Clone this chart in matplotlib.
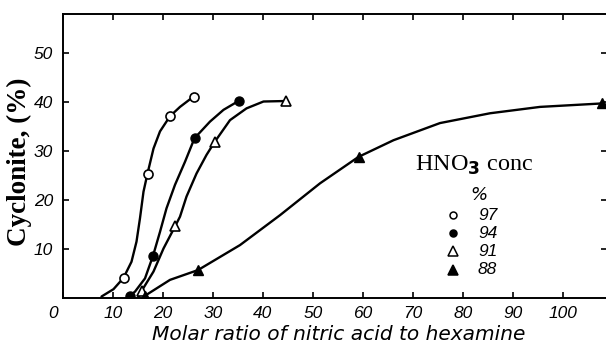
import matplotlib
matplotlib.use("Agg")
import matplotlib.pyplot as plt
import matplotlib.transforms as mtransforms

# ---- data ----
# marker points
x97 = [12.1, 16.9, 21.4, 26.1]
y97 = [4.1, 25.4, 37.1, 41.1]
x94 = [13.4, 18.0, 26.3, 35.1]
y94 = [0.5, 8.6, 32.6, 40.2]
x91 = [15.7, 22.4, 30.3, 44.5]
y91 = [1.4, 14.6, 31.8, 40.2]
x88 = [16.3, 27.0, 59.1, 107.7]
y88 = [0.4, 5.7, 28.8, 39.7]

# curve traces
cx97 = [7.7, 10.1, 12.1, 13.7, 14.7, 15.4, 16.1, 16.9, 18.1, 19.4, 21.4, 23.4, 26.1]
cy97 = [0.3, 1.8, 4.1, 7.4, 11.5, 16.3, 21.7, 25.4, 30.5, 34.0, 37.1, 39.0, 41.1]
cx94 = [12.6, 13.4, 14.4, 16.4, 18.0, 19.4, 20.7, 22.4, 24.4, 26.3, 29.4, 32.1, 35.1]
cy94 = [0.0, 0.5, 1.3, 4.0, 8.6, 13.5, 18.3, 23.1, 27.8, 32.6, 36.0, 38.4, 40.2]
cx91 = [15.0, 15.7, 18.1, 20.1, 22.4, 23.4, 24.7, 26.7, 28.7, 30.3, 33.4, 36.7, 40.1, 44.5]
cy91 = [0.0, 1.4, 5.4, 10.1, 14.6, 16.6, 20.7, 25.4, 29.2, 31.8, 36.3, 38.7, 40.1, 40.2]
cx88 = [16.3, 21.4, 27.0, 35.4, 43.4, 51.4, 59.1, 66.1, 75.4, 85.4, 95.4, 107.7]
cy88 = [0.4, 3.7, 5.7, 10.8, 16.9, 23.4, 28.8, 32.2, 35.7, 37.7, 39.0, 39.7]

legend_labels = ["97", "94", "91", "88"]
xticks = [0, 10, 20, 30, 40, 50, 60, 70, 80, 90, 100]
yticks = [10, 20, 30, 40, 50]

W, H = 606, 349
fig = plt.figure(figsize=(W / 100, H / 100), dpi=100)
L, B, T, R = 63, 298, 14, 607
ax = fig.add_axes([L / W, 1 - B / H, (R - L) / W, (B - T) / H])
ax.set_xlim(0, (R - L) / 5.0)
ax.set_ylim(0, (B - T) / 4.9)

lw = 1.7
tick_font = dict(family=["Liberation Sans", "DejaVu Sans"], style="italic", size=12.5)

for cx, cy in [(cx97, cy97), (cx94, cy94), (cx91, cy91), (cx88, cy88)]:
    ax.plot(cx, cy, color="black", lw=lw, solid_capstyle="round",
            solid_joinstyle="round")

ms = 6.5
ax.plot(x97, y97, "o", mfc="white", mec="black", mew=1.2, ms=ms, ls="none")
ax.plot(x94, y94, "o", mfc="black", mec="black", ms=ms, ls="none")
ax.plot(x91, y91, "^", mfc="white", mec="black", mew=1.2, ms=ms + 1, ls="none")
ax.plot(x88, y88, "^", mfc="black", mec="black", ms=ms + 1, ls="none")

for s in ax.spines.values():
    s.set_linewidth(1.4)

ax.set_xticks(xticks)
ax.set_xticklabels([str(v) for v in xticks], **tick_font)
ax.set_yticks(yticks)
ax.set_yticklabels([str(v) for v in yticks], **tick_font)
ax.tick_params(direction="in", length=4, width=1.2, top=True, right=True)
ax.tick_params(axis="x", pad=6)
ax.tick_params(axis="y", pad=7)
# the origin label sits a little to the left in the original
first = ax.get_xticklabels()[0]
first.set_transform(first.get_transform() +
                    mtransforms.ScaledTranslation(-10 / 100, 0, fig.dpi_scale_trans))

ax.set_ylabel("Cyclonite, (%)", family="Liberation Serif", weight="bold",
              size=19.5)
ax.yaxis.set_label_coords((32 - L) / (R - L), (B - 162) / (B - T))
ax.set_xlabel("Molar ratio of nitric acid to hexamine",
              family=["DejaVu Sans"], style="italic", size=14.5)
ax.xaxis.set_label_coords((339 - L) / (R - L), -(325 - B) / (B - T))

# legend drawn by hand
def ax_frac(px, py):
    return (px - L) / (R - L), (B - py) / (B - T)

fx, fy = ax_frac(415, 171)
ax.text(fx, fy, r"HNO$_\mathbf{3}$ conc", transform=ax.transAxes,
        family="Liberation Serif", size=17.5, ha="left", va="baseline")
fx, fy = ax_frac(479, 195)
ax.text(fx, fy, "%", transform=ax.transAxes, family=["DejaVu Sans"],
        style="italic", size=13, ha="center", va="center")

rows = [215, 233, 251, 270]
styles = [("o", "white"), ("o", "black"), ("^", "white"), ("^", "black")]
for lab, py, (mk, fc) in zip(legend_labels, rows, styles):
    mx, my = ax_frac(453, py)
    ax.plot([mx], [my], mk, mfc=fc, mec="black", mew=1.1,
            ms=5 if mk == "o" else 6.5, transform=ax.transAxes, clip_on=False)
    tx, ty = ax_frac(478, py)
    ax.text(tx, ty, lab, transform=ax.transAxes, ha="left", va="center",
            **tick_font)

fig.savefig("out.png", dpi=100)
